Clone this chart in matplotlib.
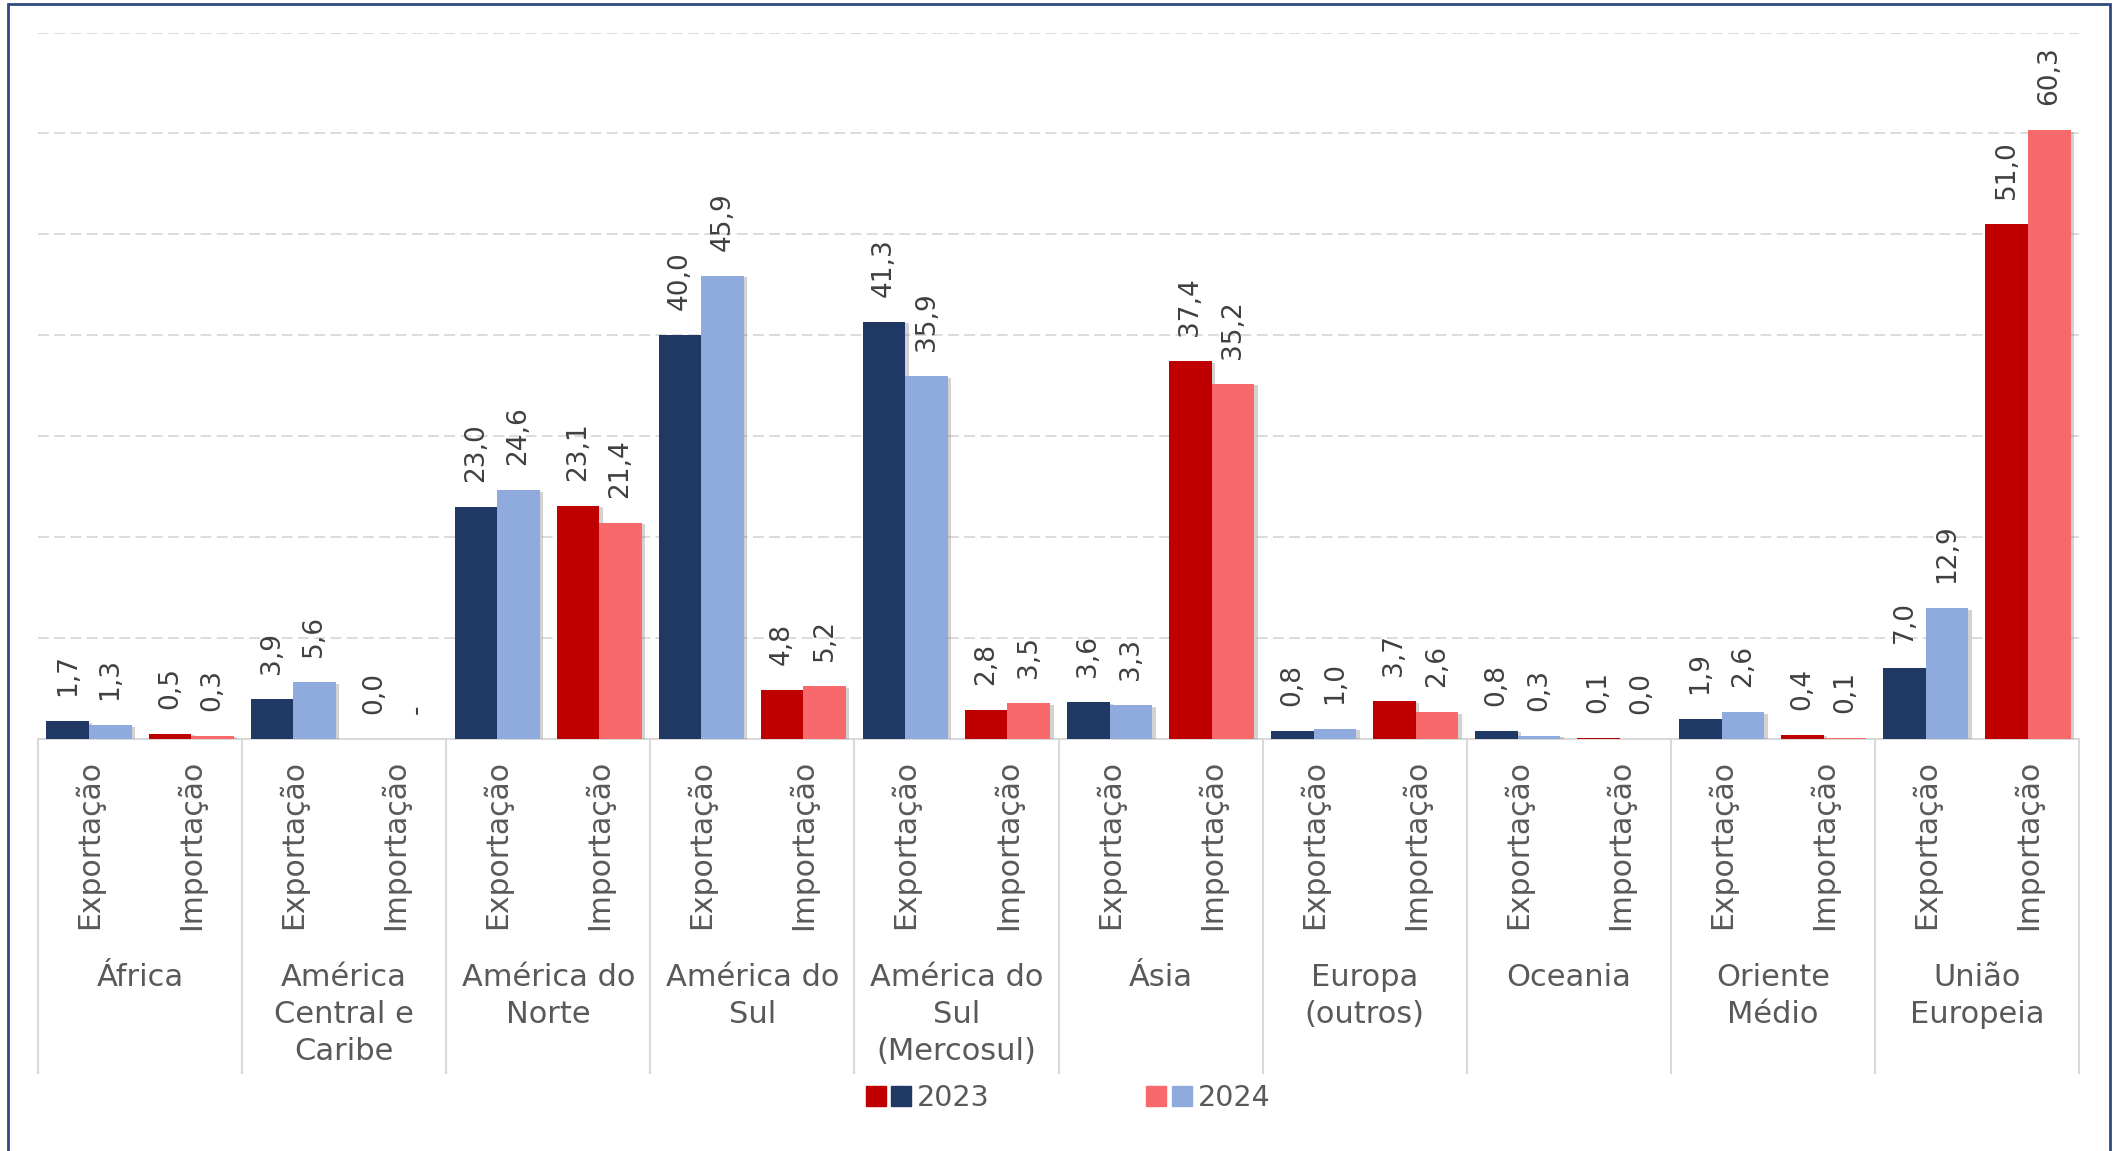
import matplotlib
matplotlib.use('Agg')
import matplotlib.pyplot as plt
import matplotlib.patheffects as pe
from matplotlib.patches import Patch, Rectangle
from matplotlib.legend_handler import HandlerTuple

plt.rcParams['font.family'] = ['DejaVu Sans']

regions = ['África', 'América\nCentral e\nCaribe', 'América do\nNorte', 'América do\nSul',
           'América do\nSul\n(Mercosul)', 'Ásia', 'Europa\n(outros)', 'Oceania',
           'Oriente\nMédio', 'União\nEuropeia']
flows = ['Exportação', 'Importação']

# values per region: (export, import)
exp_2023 = [1.7, 3.9, 23.0, 40.0, 41.3, 3.6, 0.8, 0.8, 1.9, 7.0]
exp_2024 = [1.3, 5.6, 24.6, 45.9, 35.9, 3.3, 1.0, 0.3, 2.6, 12.9]
imp_2023 = [0.5, 0.0, 23.1, 4.8, 2.8, 37.4, 3.7, 0.1, 0.4, 51.0]
imp_2024 = [0.3, None, 21.4, 5.2, 3.5, 35.2, 2.6, 0.0, 0.1, 60.3]

NAVY = '#203864'
LBLUE = '#8FAADC'
RED = '#C00000'
LRED = '#F8696B'
TXT = '#404040'
LAB = '#595959'
GRID = '#D9D9D9'

W, H = 2121, 1151
fig = plt.figure(figsize=(W / 100, H / 100), dpi=100)
x0, x1, ytop, ybase = 38, 2079, 32.5, 738.6
ax = fig.add_axes([x0 / W, 1 - ybase / H, (x1 - x0) / W, (ybase - ytop) / H])

bw = 0.417
shadow = [pe.SimplePatchShadow(offset=(2.5, -1), shadow_rgbFace='#808080', alpha=0.35), pe.Normal()]


def fmt(v):
    return '-' if v is None else f'{v:.1f}'.replace('.', ',')


for i in range(len(regions)):
    for j, (v23, v24, c23, c24) in enumerate([(exp_2023[i], exp_2024[i], NAVY, LBLUE),
                                              (imp_2023[i], imp_2024[i], RED, LRED)]):
        pos = 2 * i + j
        for k, (v, c) in enumerate([(v23, c23), (v24, c24)]):
            xc = pos - bw / 2 + k * bw
            h = 0 if v is None else v
            ax.bar(xc, h, width=bw, color=c, zorder=3 + k, path_effects=shadow)
            ax.annotate(fmt(v), (xc, h), xytext=(0, 18), textcoords='offset points',
                        rotation=90, ha='center', va='bottom', fontsize=19, color=TXT)

ax.set_xlim(-0.5, 2 * len(regions) - 0.5)
ax.set_ylim(0, 70)
ax.set_yticks(range(10, 71, 10))
ax.yaxis.grid(True, color=GRID, linestyle=(0, (6, 3)), lw=1.3, zorder=0)
ax.tick_params(left=False, labelleft=False, bottom=False, labelbottom=False)
for s in ['top', 'right', 'left']:
    ax.spines[s].set_visible(False)
ax.spines['bottom'].set_color(GRID)
ax.spines['bottom'].set_linewidth(1.5)

tr = ax.get_xaxis_transform()
for i, r in enumerate(regions):
    for j, f in enumerate(flows):
        ax.text(2 * i + j, -0.03, f, transform=tr, rotation=90, ha='center', va='top',
                fontsize=21.5, color=LAB, clip_on=False)
    ax.text(2 * i + 0.5, -0.318, r, transform=tr, ha='center', va='top', fontsize=22,
            color=LAB, linespacing=1.35, clip_on=False)
for b in range(len(regions) + 1):
    ax.plot([2 * b - 0.5] * 2, [0, -0.474], transform=tr, color=GRID, lw=1.5, clip_on=False)

h23 = (Patch(color=RED), Patch(color=NAVY))
h24 = (Patch(color=LRED), Patch(color=LBLUE))
fig.legend([h23, h24], ['2023', '2024'], handler_map={tuple: HandlerTuple(ndivide=None, pad=0.2)},
           loc='center', bbox_to_anchor=(0.5035, 0.046), ncol=2, frameon=False, fontsize=20.5,
           labelcolor=LAB, handlelength=1.6, handleheight=0.7, handletextpad=0.2,
           columnspacing=5.5)

fig.patches.append(Rectangle((8 / W, -0.01), (2110 - 8) / W, 1.01 - 4 / H, transform=fig.transFigure,
                             fill=False, edgecolor='#2F4A7F', lw=2))

fig.savefig('out.png', dpi=100)
